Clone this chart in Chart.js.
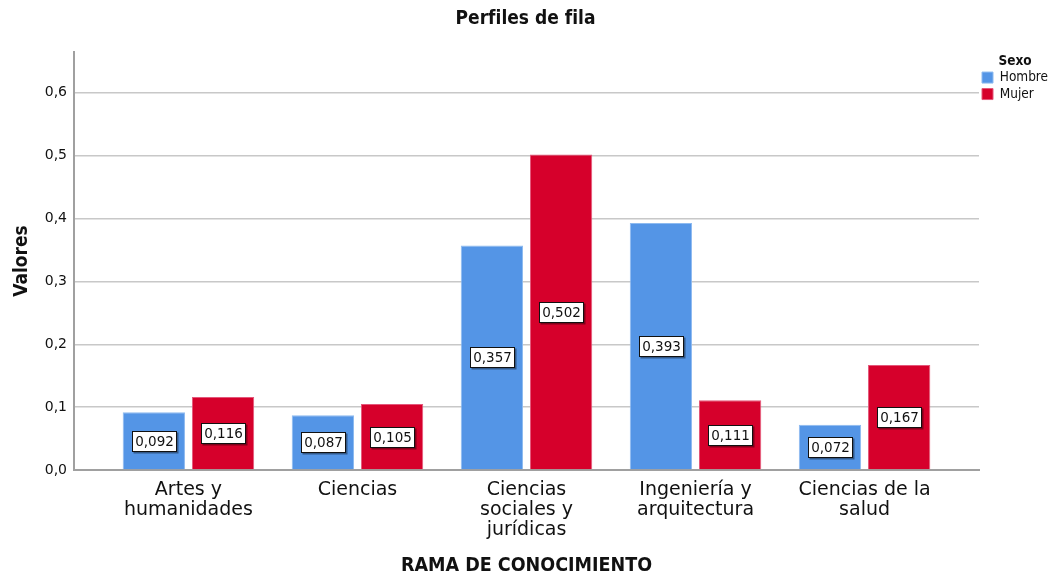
<!DOCTYPE html>
<html lang="es">
<head>
  <meta charset="UTF-8">
  <title>Perfiles de fila</title>
  <script src="https://cdn.jsdelivr.net/npm/chart.js"></script>
  <style>
    body { margin: 0; background: #fff; }
    #wrap { width: 1051px; height: 578px; }
  </style>
</head>
<body>
  <div id="wrap"><canvas id="chart" width="1051" height="578"></canvas></div>

  <script>
    // categorías (una línea por elemento, como en el gráfico)
    const categorias = [
      ['Artes y', 'humanidades'],
      ['Ciencias'],
      ['Ciencias', 'sociales y', 'jurídicas'],
      ['Ingeniería y', 'arquitectura'],
      ['Ciencias de la', 'salud']
    ];
    const hombre = [0.092, 0.087, 0.357, 0.393, 0.072];
    const mujer  = [0.116, 0.105, 0.502, 0.111, 0.167];
    const yTicks = [0, 0.1, 0.2, 0.3, 0.4, 0.5, 0.6];

    const AZUL = '#5495E6';
    const ROJO = '#D6002B';
    const reg = 'DejaVu Sans';
    const bold = "'DejaVu Sans Condensed', 'DejaVu Sans'";

    const coma = (v, d) => v.toFixed(d).replace('.', ',');

    // etiquetas blancas con borde negro en el centro de cada barra
    const etiquetas = {
      id: 'etiquetas',
      afterDatasetsDraw(chart) {
        const ctx = chart.ctx;
        ctx.save();
        ctx.font = '13.5px ' + reg;
        ctx.textAlign = 'center';
        ctx.textBaseline = 'middle';
        chart.data.datasets.forEach((ds, di) => {
          const meta = chart.getDatasetMeta(di);
          meta.data.forEach((bar, i) => {
            const p = bar.getProps(['x', 'y', 'base'], true);
            const txt = coma(ds.data[i].y, 3);
            const w = Math.round(ctx.measureText(txt).width + 6);
            const h = 21;
            const cx = Math.round(p.x), cy = Math.round((p.y + p.base) / 2);
            const x0 = Math.round(cx - w / 2), y0 = Math.round(cy - h / 2);
            ctx.fillStyle = 'rgba(0,0,0,0.4)';
            ctx.fillRect(x0 + 1.5, y0 + 1.5, w, h);
            ctx.fillStyle = '#fff';
            ctx.fillRect(x0, y0, w, h);
            ctx.strokeStyle = '#111';
            ctx.lineWidth = 1;
            ctx.strokeRect(x0 + 0.5, y0 + 0.5, w - 1, h - 1);
            ctx.fillStyle = '#111';
            ctx.fillText(txt, x0 + w / 2, cy + 1);
          });
        });
        ctx.restore();
      }
    };

    const ctx = document.getElementById('chart').getContext('2d');
    new Chart(ctx, {
      type: 'bar',
      data: {
        datasets: [
          {
            label: 'Hombre',
            data: hombre.map((v, i) => ({ x: i, y: v })),
            backgroundColor: AZUL,
            borderColor: '#8DBAF0',
            borderWidth: 1
          },
          {
            label: 'Mujer',
            data: mujer.map((v, i) => ({ x: i, y: v })),
            backgroundColor: ROJO,
            borderColor: '#E4577A',
            borderWidth: 1
          }
        ]
      },
      options: {
        responsive: false,
        animation: false,
        categoryPercentage: 0.819,
        barPercentage: 0.9,
        layout: { padding: 0 },
        plugins: {
          title: {
            display: true,
            text: 'Perfiles de fila',
            color: '#111',
            font: { family: bold, size: 19, weight: 'bold', lineHeight: 1.2 },
            padding: { top: 7.5, bottom: 21.7 }
          },
          legend: {
            position: 'right',
            align: 'start',
            maxWidth: 72,
            title: {
              display: true,
              text: 'Sexo',
              color: '#111',
              font: { family: bold, size: 13.5, weight: 'bold', lineHeight: 1 },
              padding: { top: 54.3, bottom: 0 }
            },
            labels: {
              boxWidth: 11,
              boxHeight: 11,
              padding: 3,
              color: '#111',
              font: { family: "'DejaVu Sans Condensed', 'DejaVu Sans'", size: 13.5 }
            }
          },
          tooltip: { enabled: false }
        },
        scales: {
          x: {
            type: 'linear',
            min: -0.677,
            max: 4.677,
            offset: false,
            grid: { display: false, drawTicks: false },
            border: { display: true, color: '#A0A0A0', width: 2 },
            afterBuildTicks: s => { s.ticks = categorias.map((_, i) => ({ value: i })); },
            afterFit: s => { s.height = 108; },
            ticks: {
              autoSkip: false,
              maxRotation: 0,
              padding: 10,
              color: '#111',
              font: { family: reg, size: 19, lineHeight: 1.05 },
              callback: v => categorias[v]
            },
            title: {
              display: true,
              text: 'RAMA DE CONOCIMIENTO',
              color: '#111',
              font: { family: bold, size: 19.5, weight: 'bold', lineHeight: 1.2 },
              padding: { top: 0, bottom: 0 }
            }
          },
          y: {
            min: 0,
            max: 0.665,
            afterBuildTicks: s => { s.ticks = yTicks.map(v => ({ value: v })); },
            afterFit: s => { s.width = 74; },
            grid: { color: '#C8C8C8', lineWidth: 1.5, drawTicks: false },
            border: { display: true, color: '#A0A0A0', width: 2 },
            ticks: {
              padding: 7,
              color: '#111',
              font: { family: reg, size: 14 },
              callback: v => coma(v, 1)
            },
            title: {
              display: true,
              text: 'Valores',
              color: '#111',
              font: { family: bold, size: 19, weight: 'bold', lineHeight: 1.2 },
              padding: { top: 11, bottom: 0 }
            }
          }
        }
      },
      plugins: [etiquetas]
    });
  </script>
</body>
</html>
